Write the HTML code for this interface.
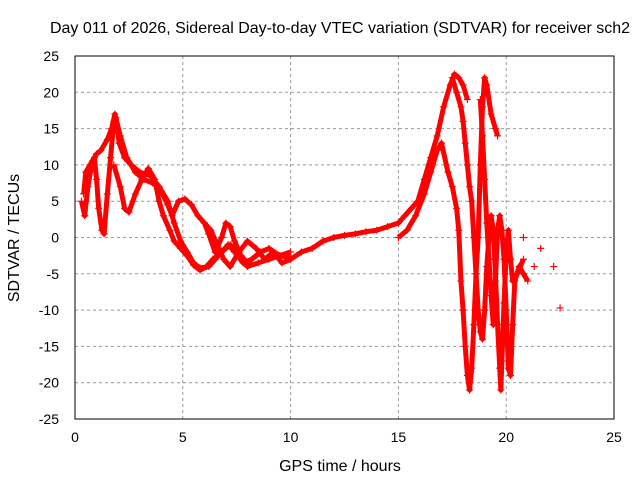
<!DOCTYPE html>
<html><head><meta charset="utf-8"><style>
body{margin:0;background:#fff}
svg{display:block;font-family:"Liberation Sans",sans-serif}
</style></head><body>
<svg id="chart" width="640" height="480">
<text x="340" y="33" font-size="16" text-anchor="middle">Day 011 of 2026, Sidereal Day-to-day VTEC variation (SDTVAR) for receiver sch2</text>
<text x="340" y="471" font-size="16" text-anchor="middle">GPS time / hours</text>
<text transform="translate(19,238) rotate(-90)" font-size="16" text-anchor="middle">SDTVAR / TECUs</text>
<g id="grid"></g><g id="marks"></g>
<rect x="75" y="56" width="539" height="363" fill="none" stroke="#000"/>
</svg>
<script>
const xTicks=[0,5,10,15,20,25];
const yTicks=[-25,-20,-15,-10,-5,0,5,10,15,20,25];
const s1=[[0.4,6],[0.5,9],[0.7,10],[0.9,11],[1.0,8],[1.1,4],[1.25,1],[1.35,0.5],[1.5,6],[1.65,11],[1.8,16],[1.9,16.5],[2.05,13],[2.3,11],[2.6,10],[3.0,9],[3.5,8.5],[3.9,7],[4.3,5],[4.6,2],[4.9,-0.5],[5.2,-2],[5.5,-3.5],[5.8,-4.2],[6.2,-4],[6.5,-3],[6.8,-2],[7.1,-1],[7.4,-2],[7.8,-3.5],[8.2,-3],[8.6,-2],[9.0,-1.5],[9.5,-2.5],[10,-2.8]];
const s2=[[0.3,5],[0.45,3],[0.6,7],[0.8,10.5],[1.0,11.5],[1.2,12],[1.5,13.5],[1.7,15],[1.85,17],[2.1,14],[2.4,11],[2.8,9],[3.2,8],[3.6,7.5],[3.9,7],[4.3,4.5],[4.5,3],[4.8,5],[5.1,5.3],[5.4,4.5],[5.7,3],[6.0,2],[6.3,1],[6.6,-1],[6.9,-3],[7.2,-4],[7.6,-2],[8.0,-0.5],[8.4,-1.5],[8.8,-3],[9.2,-2],[9.6,-3.5],[10,-3],[10.5,-2],[11,-1.5],[11.5,-0.5],[12,0],[12.5,0.3],[13,0.5],[13.5,0.8],[14,1],[14.5,1.5],[15,2],[15.3,3],[15.6,4],[15.9,5],[16.2,8],[16.5,11],[16.8,14],[17.1,18],[17.4,21],[17.6,22.5],[17.8,22],[18.0,21],[18.2,19]];
const s3=[[1.8,10],[2.1,7],[2.3,4],[2.5,3.5],[2.8,6],[3.1,8],[3.4,9.5],[3.7,8],[3.9,5],[4.1,3],[4.4,1],[4.6,-0.5],[4.9,-1.5],[5.2,-2.5],[5.5,-3.8],[5.8,-4.5],[6.1,-4],[6.4,-3],[6.8,-2],[7.2,-1],[7.6,-2.5],[8,-4],[8.5,-3.5],[9,-3],[9.5,-2.5],[10,-2]];
const s4=[[6.0,2],[6.2,0.5],[6.5,-2],[6.8,0],[7.0,2],[7.2,1.5],[7.4,-0.5],[7.7,-2.5],[8.0,-3.5]];
const s5=[[15,0],[15.4,1],[15.8,3],[16.2,6],[16.5,9],[16.8,12],[17.0,13],[17.3,9],[17.5,7],[17.7,4],[17.8,1],[17.9,-6],[18.0,-10],[18.1,-15],[18.2,-19],[18.3,-21],[18.4,-18],[18.5,-12],[18.6,-5],[18.7,0],[18.8,10],[18.9,18],[19.0,22],[19.1,21],[19.3,17],[19.5,15],[19.6,14]];
const s6=[[17.5,22],[17.7,20],[17.9,18],[18.0,16],[18.1,13],[18.2,10],[18.3,7],[18.4,5],[18.5,0],[18.6,-5],[18.7,-10],[18.8,-13],[18.9,-14],[19.0,-10],[19.1,-4],[19.2,0],[19.3,3],[19.4,1],[19.5,-5],[19.6,-12],[19.7,-18],[19.75,-21],[19.8,-17],[19.9,-9],[20.0,-2],[20.1,1],[20.2,-3],[20.3,-6],[20.5,-5],[20.8,-3]];
const s7=[[18.8,19],[18.9,14],[19.0,8],[19.1,2],[19.2,-3],[19.3,-8],[19.4,-12],[19.5,-6],[19.6,1],[19.7,3],[19.8,1],[19.9,-3],[20.0,-10],[20.1,-18],[20.2,-19],[20.3,-12],[20.4,-6],[20.6,-4],[20.8,-5],[21,-6]];
const isolated=[[20.8,0],[21.6,-1.5],[22.2,-4],[22.5,-9.7],[21.3,-4]];
const series=[s1,s2,s3,s4,s5,s6,s7];
const X0=75,X1=614,Y0=419,Y1=56;
const xs=v=>X0+(v-0)/25*(X1-X0);
const ys=v=>Y0-(v+25)/50*(Y0-Y1);
const NS="http://www.w3.org/2000/svg";
const grid=document.getElementById('grid'),marks=document.getElementById('marks');
function mk(t,a,p){const e=document.createElementNS(NS,t);for(const k in a)e.setAttribute(k,a[k]);p.appendChild(e);return e;}
xTicks.forEach(t=>{const x=xs(t);
 if(t>0&&t<25){const l=mk('line',{x1:x,x2:x,y1:Y1,y2:Y0,stroke:'#999','stroke-dasharray':'3,3'},grid);
 
 }
 const tx=mk('text',{x:x,y:Y0+23,'font-size':14,'text-anchor':'middle'},grid);tx.textContent=t;
 
 });
yTicks.forEach(t=>{const y=ys(t);
 if(t>-25&&t<25){const l=mk('line',{x1:X0,x2:X1,y1:y,y2:y,stroke:'#999','stroke-dasharray':'3,3'},grid);
 
 }
 const tx=mk('text',{x:X0-16,y:y+5,'font-size':14,'text-anchor':'end'},grid);tx.textContent=t;
 
 });
function plus(p){let d='';p.forEach(([h,v])=>{const x=xs(h),y=ys(v);d+=`M${x-3.5},${y}h7M${x},${y-3.5}v7`;});return d;}
series.forEach((s,i)=>{
 const pl=mk('polyline',{points:s.map(([h,v])=>xs(h)+','+ys(v)).join(' '),fill:'none',stroke:'#f00','stroke-width':5,'stroke-linejoin':'round'},marks);
 
 
 const pm=mk('path',{d:plus(s),stroke:'#f00','stroke-width':1.2,fill:'none'},marks);
 
 
});
const ip=mk('path',{d:plus(isolated),stroke:'#f00','stroke-width':1.2,fill:'none'},marks);


</script>
</body></html>
